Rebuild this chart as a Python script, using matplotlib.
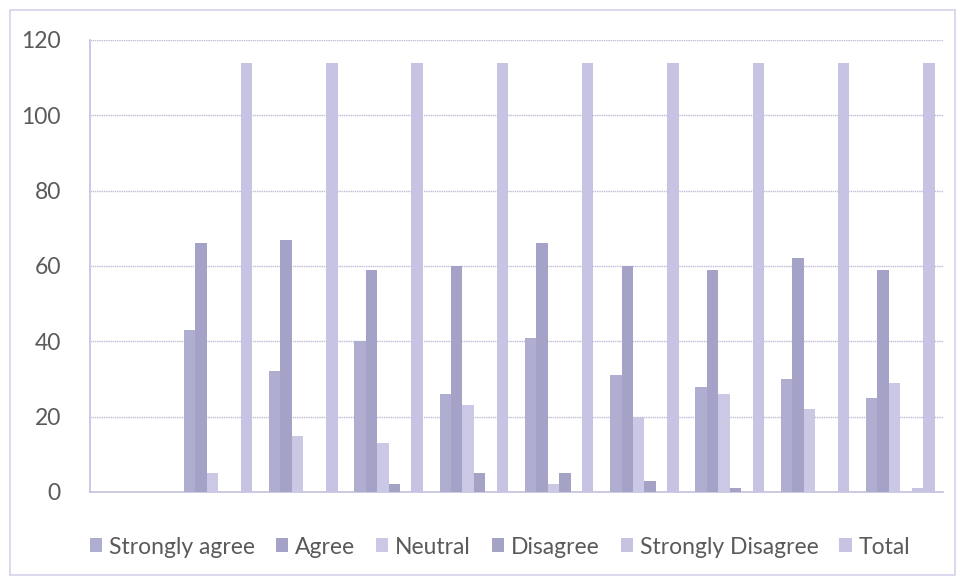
import numpy as np
import matplotlib
matplotlib.use("Agg")
from matplotlib import pyplot as plt
from matplotlib.patches import Rectangle

# Data; first category is empty
categories = ["", "Q1", "Q2", "Q3", "Q4", "Q5", "Q6", "Q7", "Q8", "Q9"]
series_names = ["Strongly agree", "Agree", "Neutral", "Disagree", "Strongly Disagree", "Total"]
strongly_agree = [0, 43, 32, 40, 26, 41, 31, 28, 30, 25]
agree = [0, 66, 67, 59, 60, 66, 60, 59, 62, 59]
neutral = [0, 5, 15, 13, 23, 2, 20, 26, 22, 29]
disagree = [0, 0, 0, 2, 5, 5, 3, 1, 0, 0]
strongly_disagree = [0, 0, 0, 0, 0, 0, 0, 0, 0, 1]
total = [0, 114, 114, 114, 114, 114, 114, 114, 114, 114]

series = [strongly_agree, agree, neutral, disagree, strongly_disagree, total]
colors = ["#b0aed0", "#a4a2c6", "#cac8e4", "#a5a3c5", "#c5c3e0", "#c6c4e2"]

plt.rcParams['font.family'] = ['Lato', 'DejaVu Sans']

fig = plt.figure(figsize=(9.63, 5.83), dpi=100)
ax = fig.add_axes([90 / 963, 1 - 492 / 583, 853 / 963, 452 / 583])

# outer chart border
fig.patches.append(Rectangle((10 / 963, 8 / 583), 945 / 963, 565 / 583,
                             transform=fig.transFigure, fill=False,
                             edgecolor="#d4d2ea", linewidth=1.2))

x = np.arange(len(categories))
w = 0.134
for i, (vals, name, col) in enumerate(zip(series, series_names, colors)):
    ax.bar(x + (i - 2.5) * w, vals, width=w, color=col, label=name, zorder=3)

ax.set_xlim(-0.5, len(categories) - 0.5)
ax.set_ylim(0, 120)
ax.set_yticks(range(0, 121, 20))
ax.set_xticks([])
ax.tick_params(axis='y', length=0, pad=21, labelsize=16.5, labelcolor="#5a5a5a")
ax.grid(axis='y', color="#bebcd8", linewidth=1.0, linestyle=(0, (1, 0.6)), zorder=0)

for side in ["top", "right"]:
    ax.spines[side].set_visible(False)
ax.spines["left"].set_color("#c3c1de")
ax.spines["bottom"].set_color("#c3c1de")
ax.spines["left"].set_linewidth(1.2)
ax.spines["bottom"].set_linewidth(1.2)

ax.legend(loc="center", bbox_to_anchor=(500 / 963, 1 - 547 / 583), bbox_transform=fig.transFigure,
          ncol=6, frameon=False, fontsize=16.5, handlelength=0.55, handleheight=0.55,
          handletextpad=0.3, columnspacing=0.9, labelcolor="#5a5a5a")

fig.savefig("out.png", dpi=100)
